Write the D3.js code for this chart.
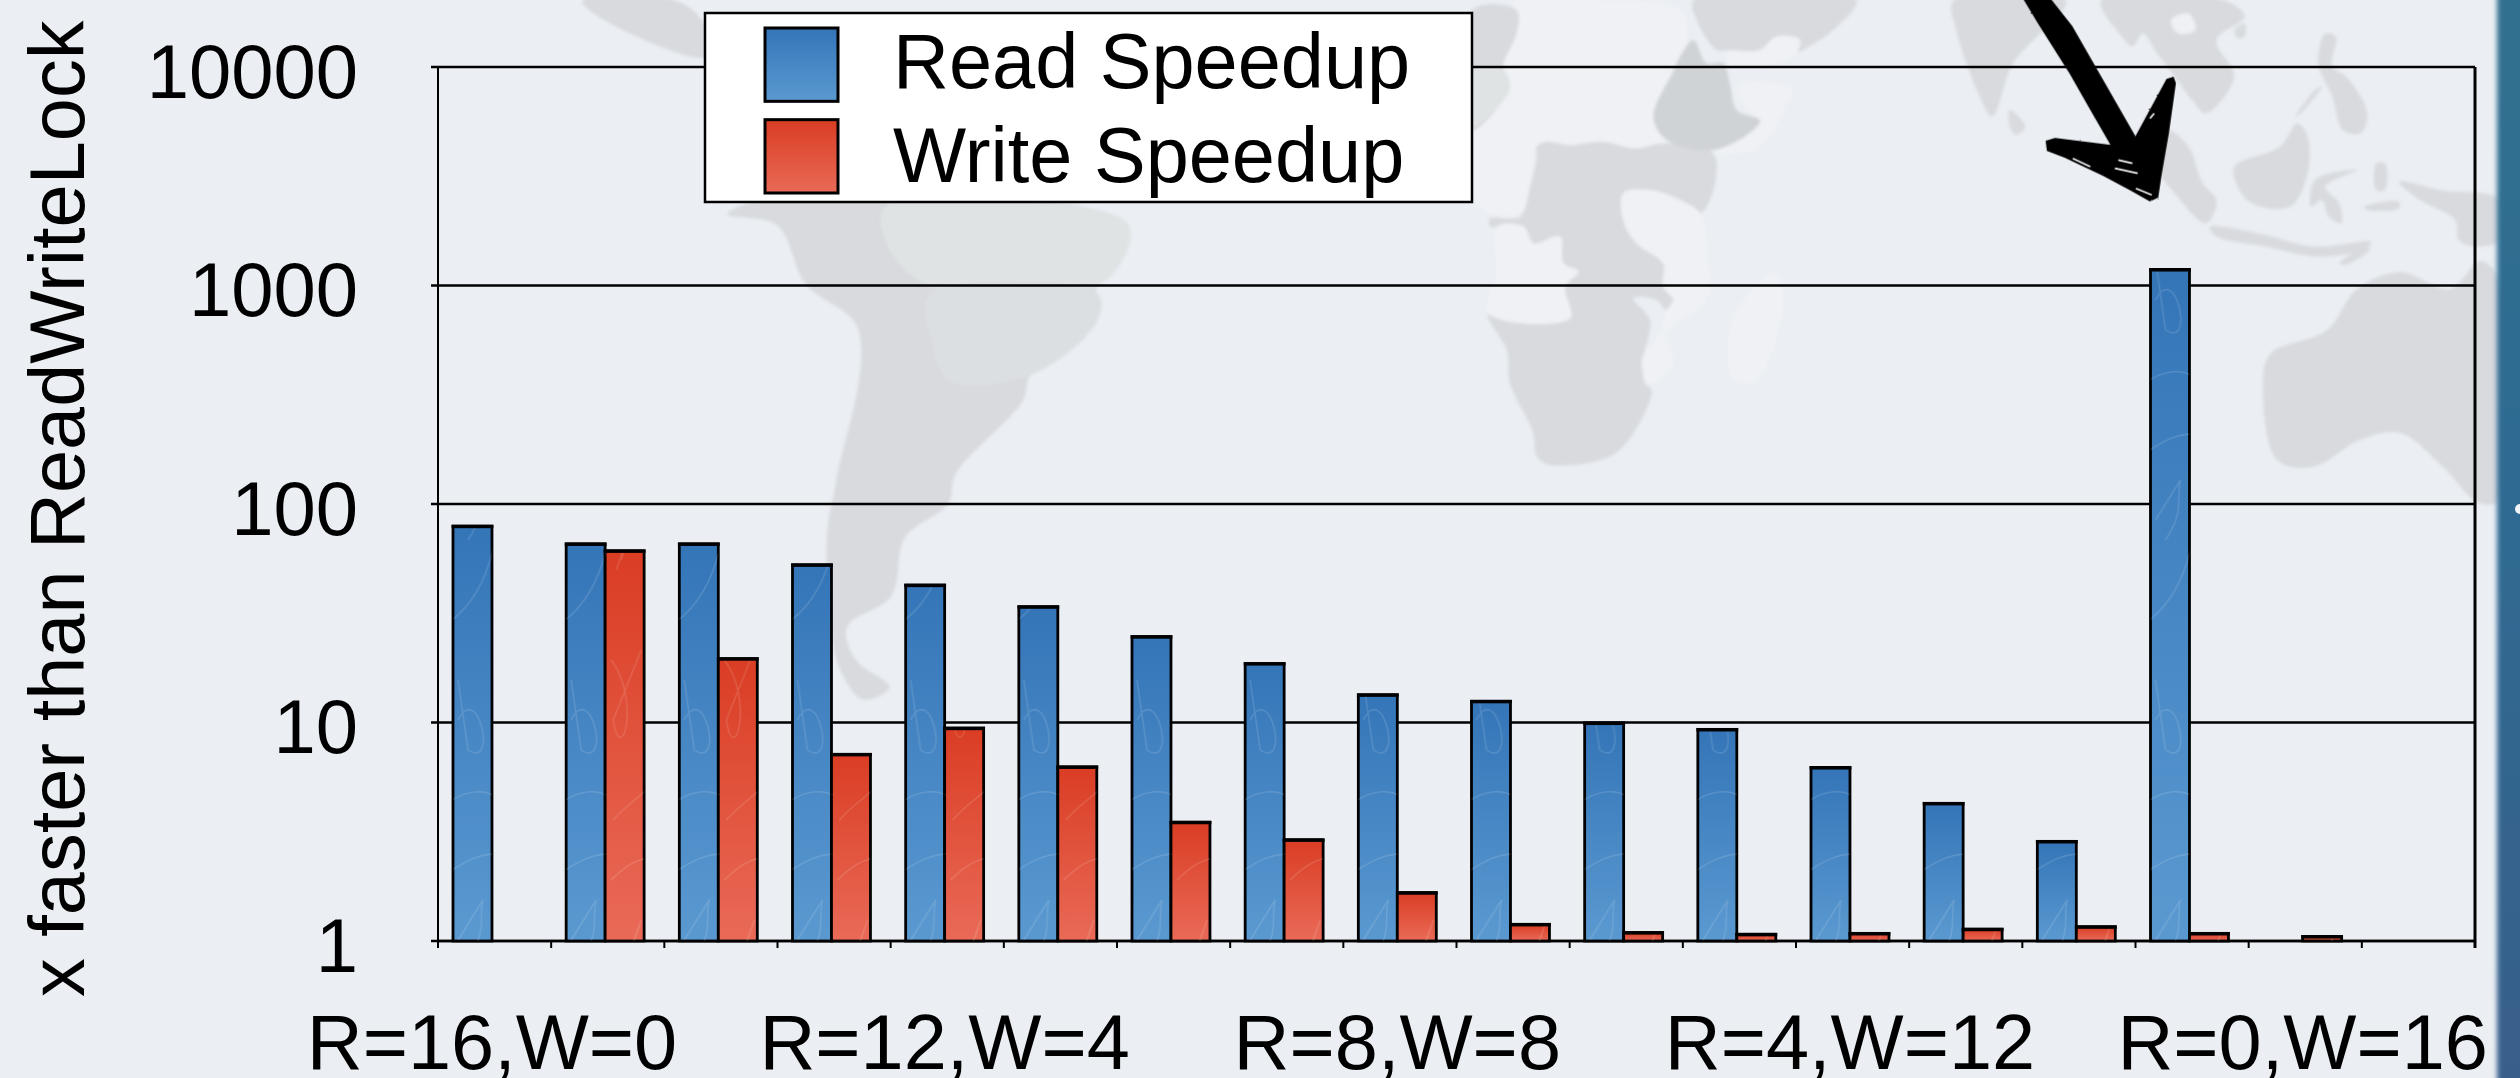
<!DOCTYPE html>
<html>
<head>
<meta charset="utf-8">
<style>
html,body{margin:0;padding:0;background:#ebeff4;overflow:hidden}
svg{display:block}
text{font-family:"Liberation Sans",Arial,sans-serif;fill:#000}
</style>
<script src="https://cdn.jsdelivr.net/npm/d3@7"></script>
</head>
<body>
<svg id="c" width="2520" height="1078"></svg>
<script>
const categories = d3.range(18);
const readSpeedup  = [80.4,66.7,66.7,53.5,43.2,34.4,25.1,18.9,13.6,12.7,10.1,9.44,6.32,4.33,2.90,1202,null,null];
const writeSpeedup = [null,62,19.9,7.26,9.57,6.36,3.55,2.95,1.69,1.21,1.11,1.09,1.10,1.15,1.18,1.10,1.065,null];
const seriesNames = ["Read Speedup","Write Speedup"];
const yTicks = [1,10,100,1000,10000];
const xLabels = [[0,"R=16,W=0"],[4,"R=12,W=4"],[8,"R=8,W=8"],[12,"R=4,W=12"],[16,"R=0,W=16"]];
const axisLabel = "x faster than ReadWriteLock";

// Backdrop artwork: faded world map, drawn in three local coordinate frames
const dark="#d8dade", pale="#eff1f4", mid="#d0d3d6", green="#dfe3e4", soft="#dcdfe2";
const americaShapes = [
 [dark,[[274,480],[330,440],[470,440],[620,440],[750,490],[760,540],[720,640],[720,720],[640,840],[630,900],[550,1060],[540,1130],[490,1200],[470,1340],[420,1400],[430,1480],[470,1540],[440,1568],[410,1500],[395,1300],[395,1180],[405,1080],[430,730],[370,640],[330,500]]],
 [green,[[470,455],[640,450],[750,490],[760,540],[720,640],[640,650],[525,645],[470,560]]],
 [soft,[[525,650],[715,650],[720,720],[640,840],[550,860],[520,760]]],
 [dark,[[100,0],[130,50],[240,130],[260,120],[250,60],[210,0]]]
];
const africaShapes = [
 [pale,[[170,0],[380,0],[660,30],[680,120],[640,200],[580,350],[620,420],[520,445],[430,425],[330,435],[260,425],[230,440],[210,560],[180,640],[60,620],[40,400],[130,300],[150,240],[130,200],[170,100]]],
 [dark,[[230,440],[260,425],[330,435],[430,425],[520,445],[620,430],[760,460],[760,570],[720,640],[660,600],[570,570],[490,580],[490,660],[530,730],[610,790],[610,860],[640,900],[620,930],[590,900],[520,895],[570,960],[550,1080],[555,1150],[575,1170],[520,1300],[450,1370],[270,1395],[230,1370],[220,1300],[150,1150],[140,1050],[85,940],[330,955],[315,860],[355,815],[310,790],[300,710],[220,730],[190,680],[90,680],[90,655],[180,650],[210,560],[230,470]]],
 [pale,[[760,460],[900,440],[990,290],[1000,265],[830,260],[890,380],[820,420]]],
 [pale,[[490,580],[570,570],[660,600],[720,640],[745,800],[740,900],[620,1000],[640,1090],[570,1150],[545,1080],[600,1000],[620,930],[640,900],[610,860],[610,790],[530,730],[490,660]]],
 [pale,[[945,820],[970,900],[900,1130],[860,1150],[815,1130],[805,1050],[825,940]]],
 [pale,[[110,680],[190,680],[220,730],[300,710],[310,790],[355,815],[315,860],[330,955],[85,940],[110,820]]],
 [mid,[[640,215],[580,350],[620,420],[760,450],[880,390],[900,360],[830,330],[810,250],[790,190],[740,190],[700,120],[660,170]]],
 [dark,[[700,0],[1190,0],[1120,90],[1000,160],[1020,120],[950,110],[900,150],[810,150],[770,150],[710,60]]],
 [pale,[[800,160],[900,150],[950,110],[1020,120],[1000,170],[810,195]]],
 [dark,[[36,30],[170,30],[170,100],[130,200],[150,260],[130,300],[36,390]]],
 [green,[[36,210],[130,210],[150,260],[130,300],[36,380]]]
];
const asiaShapes = [
 [dark,[[10,0],[330,0],[180,190],[120,350],[80,280],[50,200],[20,100]]],
 [dark,[[170,330],[215,380],[190,405],[170,380]]],
 [dark,[[430,0],[780,0],[840,50],[760,120],[810,230],[730,340],[690,300],[640,230],[590,160],[550,100],[520,140],[490,110]]],
 [pale,[[630,60],[680,40],[700,90],[650,100]]],
 [dark,[[810,90],[840,70],[840,110],[820,115]]],
 [dark,[[620,390],[680,440],[720,550],[760,600],[730,670],[640,580],[590,500]]],
 [dark,[[740,680],[880,700],[1040,740],[1200,725],[1190,745],[1050,770],[900,740],[760,710]]],
 [dark,[[810,500],[940,440],[990,370],[1020,410],[1020,520],[970,620],[860,610],[820,560]]],
 [dark,[[1070,100],[1100,110],[1090,200],[1130,230],[1190,340],[1170,400],[1120,390],[1090,290],[1050,190]]],
 [dark,[[1040,540],[1160,510],[1070,560],[1110,610],[1115,670],[1080,650],[1060,600],[1030,620]]],
 [dark,[[1060,260],[1000,340],[985,350],[1040,270]]],
 [dark,[[1280,545],[1400,570],[1568,600],[1568,720],[1500,740],[1450,720],[1440,660],[1340,600]]],
 [dark,[[1215,490],[1240,490],[1240,570],[1215,570]]],
 [dark,[[1180,620],[1280,605],[1280,625],[1190,630]]],
 [dark,[[1110,790],[1190,740],[1195,750],[1125,795]]]
];
const australia = [[2263,385],[2270,354],[2327,330],[2357,289],[2400,272],[2450,289],[2480,261],[2497,275],[2505,400],[2497,502],[2477,502],[2443,467],[2400,433],[2360,440],[2313,467],[2277,460]];
const arrowShapes = [
 [[215,0],[285,0],[345,80],[405,190],[525,410],[525,450],[465,440],[410,340],[345,220],[255,70]],
 [[277,425],[300,418],[470,440],[530,415],[620,240],[635,235],[640,250],[620,400],[600,520],[590,590],[570,600],[520,570],[440,525],[330,470],[280,450]]
];
const arrowScratches = ["M350,475L400,500","M470,505L535,520","M480,480L520,490","M530,565L575,585","M570,355L582,340"];

const W=2520,H=1078, L=438,R=2475, T=67,B=941;
const svg=d3.select("#c");
const defs=svg.append("defs");
function grad(id,a,b){
  const g=defs.append("linearGradient").attr("id",id).attr("x1",0).attr("y1",0).attr("x2",0).attr("y2",1);
  g.append("stop").attr("offset",0).attr("stop-color",a);
  g.append("stop").attr("offset",1).attr("stop-color",b);
}
grad("g0","#3475b8","#5a99d0");
grad("g1","#da3d24","#e96a57");
const edge=defs.append("linearGradient").attr("id","edge").attr("x1",0).attr("x2",0).attr("y1",0).attr("y2",1);
edge.append("stop").attr("offset",0).attr("stop-color","#30708f");
edge.append("stop").attr("offset",.5).attr("stop-color","#2f6a92");
edge.append("stop").attr("offset",1).attr("stop-color","#385f8a");
defs.append("filter").attr("id","soft").append("feGaussianBlur").attr("stdDeviation",1.5);
defs.append("filter").attr("id","edgeblur").attr("x","-50%").attr("width","200%").append("feGaussianBlur").attr("stdDeviation",2.5);
const rough=defs.append("filter").attr("id","rough");
rough.append("feTurbulence").attr("type","fractalNoise").attr("baseFrequency",0.3).attr("numOctaves",2).attr("seed",4);
rough.append("feDisplacementMap").attr("in","SourceGraphic").attr("scale",5);
const pat=defs.append("pattern").attr("id","scribble").attr("patternUnits","userSpaceOnUse").attr("width",113.17).attr("height",420).attr("x",L);
pat.selectAll("path").data([
 "M14,30C30,20 40,15 55,14M30,120C50,90 40,80 45,60L20,100",
 "M14,200C40,180 50,150 55,130M20,300C40,260 60,350 30,330L20,260M14,380C30,370 45,370 55,375",
 "M60,40C80,20 90,20 95,18M70,140L90,80L65,150M60,240C90,280 70,350 62,300L90,230M62,400C75,385 85,380 95,370"
]).join("path").attr("d",d=>d).attr("fill","none").attr("stroke","#fff").attr("stroke-opacity",.13).attr("stroke-width",1.5);

svg.append("rect").attr("width",W).attr("height",H).attr("fill","#ebeff4");

// map
const smooth=d3.line().curve(d3.curveCatmullRomClosed.alpha(.5));
const map=svg.append("g").attr("filter","url(#soft)");
function land(list,tf){
  map.append("g").attr("transform",tf).selectAll("path").data(list).join("path")
    .attr("d",d=>smooth(d[1])).attr("fill",d=>d[0]);
}
land(americaShapes,`translate(500,0) scale(${1/1.206},${1/2.24})`);
land(africaShapes,`translate(1460,0) scale(${1/3})`);
land(asiaShapes,`translate(1950,0) scale(${1/2.851},${1/3})`);
map.append("path").attr("d",smooth(australia)).attr("fill",dark);

svg.append("rect").attr("x",2497).attr("y",-10).attr("width",40).attr("height",H+20).attr("fill","url(#edge)").attr("filter","url(#edgeblur)");
svg.append("circle").attr("cx",2520).attr("cy",509).attr("r",5).attr("fill","#f2f5f8");

const y=d3.scaleLog().domain([1,10000]).range([B,T]);
const x=d3.scaleBand().domain(categories).range([L,R]).paddingInner(.311).paddingOuter(.1555).align(.426);
const x1=d3.scaleBand().domain([0,1]).range([0,x.bandwidth()]);
const xEdge=d3.scaleLinear().domain([0,18]).range([L,R]);

// grid
svg.append("g").selectAll("line").data(yTicks).join("line")
  .attr("x1",L).attr("x2",R).attr("y1",d=>y(d)).attr("y2",d=>y(d))
  .attr("stroke","#000").attr("stroke-width",2.5);

// y axis
const ya=svg.append("g").attr("transform",`translate(${L},0)`)
  .call(d3.axisLeft(y).tickValues(yTicks).tickFormat(d3.format("d")).tickSize(7).tickSizeOuter(0).offset(0));
ya.select(".domain").attr("stroke","#000").attr("stroke-width",2);
ya.selectAll(".tick line").attr("stroke","#000").attr("stroke-width",2.5);
ya.selectAll(".tick text").attr("x",-80).attr("dy",30.5).attr("font-size",76).attr("text-anchor","end")
  .style("font-family",'"Liberation Sans"').attr("fill","#000");

// x axis
const xa=svg.append("g").attr("transform",`translate(0,${B})`)
  .call(d3.axisBottom(xEdge).tickValues(d3.range(19)).tickFormat("").tickSize(7).tickSizeOuter(0).offset(0));
xa.select(".domain").attr("stroke","#000").attr("stroke-width",2.5);
xa.selectAll(".tick line").attr("stroke","#000").attr("stroke-width",2);
svg.append("line").attr("x1",R).attr("x2",R).attr("y1",T).attr("y2",B+7).attr("stroke","#000").attr("stroke-width",3);

svg.append("g").selectAll("text").data(xLabels).join("text")
  .attr("x",d=>x(d[0])+x.bandwidth()/2).attr("y",1069)
  .attr("text-anchor","middle").attr("font-size",77.5).text(d=>d[1]);

// bars
[readSpeedup,writeSpeedup].forEach((vals,s)=>{
  const rows=vals.map((v,i)=>({i,v})).filter(d=>d.v!=null);
  const g=svg.append("g").attr("class","series"+s);
  const place=sel=>sel.attr("x",d=>x(d.i)+x1(s)).attr("width",x1.bandwidth())
    .attr("y",d=>y(d.v)+1.5).attr("height",d=>B-y(d.v)-1.5);
  g.selectAll("rect.bar").data(rows).join("rect").attr("class","bar").call(place)
    .attr("fill",`url(#g${s})`).attr("stroke","#000").attr("stroke-width",2.8);
  g.selectAll("rect.tex").data(rows).join("rect").attr("class","tex").call(place).attr("fill","url(#scribble)");
  g.selectAll("rect.cap").data(rows).join("rect").attr("class","cap")
    .attr("x",d=>x(d.i)+x1(s)-1.4).attr("width",x1.bandwidth()+2.8)
    .attr("y",d=>y(d.v)).attr("height",3.5).attr("fill","#000");
});

// arrow
const straight=d3.line().curve(d3.curveLinearClosed);
const arrow=svg.append("g").attr("transform",`translate(1950,0) scale(${1/2.851},${1/3})`);
arrow.append("g").attr("filter","url(#rough)").selectAll("path").data(arrowShapes).join("path")
  .attr("d",d=>straight(d)).attr("fill","#000").attr("stroke","#000").attr("stroke-width",8);
arrow.append("g").selectAll("path").data(arrowScratches).join("path")
  .attr("d",d=>d).attr("stroke","#eef0f3").attr("stroke-width",5).attr("fill","none");

// y label
svg.append("text").attr("transform","translate(84,997) rotate(-90)").attr("font-size",77.5).text(axisLabel);

// legend
const lg=svg.append("g");
lg.append("rect").attr("x",705).attr("y",13).attr("width",767).attr("height",189).attr("fill","#fff").attr("stroke","#000").attr("stroke-width",2.5);
const ly=d3.scaleBand().domain([0,1]).range([28,193]).paddingInner(.2).paddingOuter(0);
const rowsL=lg.selectAll("g").data(seriesNames).join("g");
rowsL.append("rect").attr("x",765).attr("width",73).attr("y",(d,i)=>ly(i)).attr("height",ly.bandwidth())
  .attr("fill",(d,i)=>`url(#g${i})`).attr("stroke","#000").attr("stroke-width",3);
rowsL.append("text").attr("x",893).attr("y",(d,i)=>88+94*i).attr("font-size",77.5).text(d=>d);
</script>
</body>
</html>
